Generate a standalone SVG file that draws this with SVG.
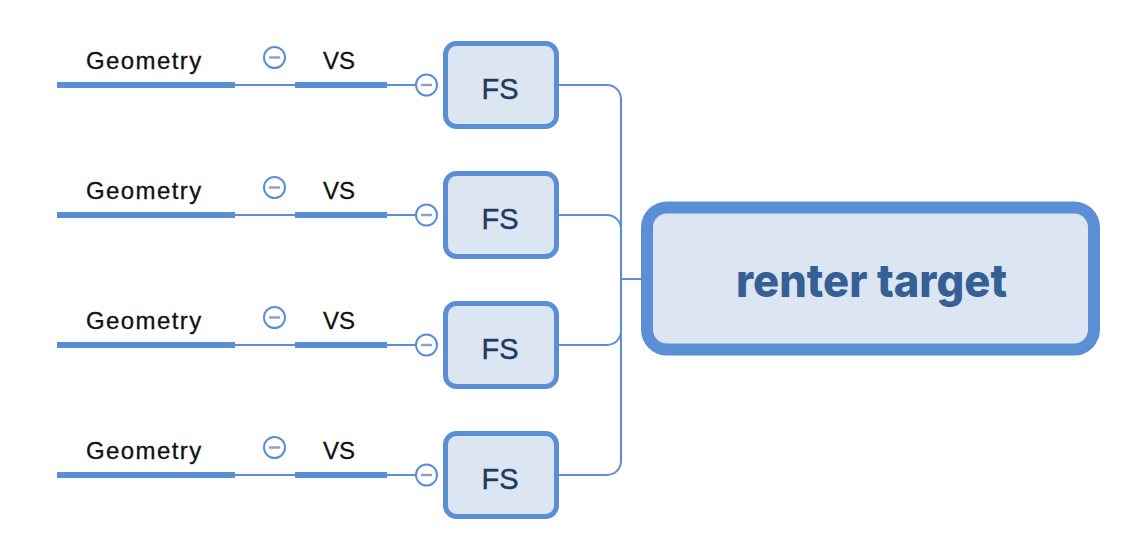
<svg xmlns="http://www.w3.org/2000/svg" width="1141" height="558" viewBox="0 0 1141 558">
<style>
.thick{stroke:#5a8fd6;stroke-width:6;fill:none}
.thin{stroke:#5a8fd6;stroke-width:2;fill:none}
.tog{fill:#fff;stroke:#5a8fd6;stroke-width:2}
.minus{stroke:#9a9cc8;stroke-width:2.5;stroke-linecap:round}
.lbl{font-family:"Liberation Sans",Arial,sans-serif;font-size:24px;fill:#111;stroke:#111;stroke-width:0.3}
.fs{fill:#dce6f2;stroke:#5a8fd6;stroke-width:5}
.fst{font-family:"Liberation Sans",Arial,sans-serif;font-size:29px;fill:#1f3b5e;stroke:#1f3b5e;stroke-width:0.4;text-anchor:middle}
</style>
<rect width="1141" height="558" fill="#fff"/>
<g id="connectors">
<path class="thin" d="M559,85 H607 A14,14 0 0 1 621,99 V279 H641"/>
<path class="thin" d="M559,215 H607 A14,14 0 0 1 621,229 V279 H641"/>
<path class="thin" d="M559,345 H607 A14,14 0 0 0 621,331 V279 H641"/>
<path class="thin" d="M559,475 H607 A14,14 0 0 0 621,461 V279 H641"/>
</g>
<g id="row1" transform="translate(0,85)">
<line class="thick" x1="57" y1="0" x2="235" y2="0"/>
<line class="thin" x1="235" y1="0" x2="295" y2="0"/>
<line class="thick" x1="295" y1="0" x2="387" y2="0"/>
<line class="thin" x1="387" y1="0" x2="416" y2="0"/>
<text class="lbl" x="86" y="-16" letter-spacing="1.4">Geometry</text>
<text class="lbl" x="323" y="-16">VS</text>
<circle class="tog" cx="274.5" cy="-27.5" r="10.5"/><line class="minus" x1="270" y1="-27.5" x2="279" y2="-27.5"/>
<circle class="tog" cx="426.5" cy="0" r="10.5"/><line class="minus" x1="422" y1="0" x2="431" y2="0"/>
<g id="fs1"><rect class="fs" x="445.5" y="-41.5" width="111" height="83" rx="11"/><text class="fst" x="500" y="14">FS</text></g>
</g>
<g id="row2" transform="translate(0,215)">
<line class="thick" x1="57" y1="0" x2="235" y2="0"/>
<line class="thin" x1="235" y1="0" x2="295" y2="0"/>
<line class="thick" x1="295" y1="0" x2="387" y2="0"/>
<line class="thin" x1="387" y1="0" x2="416" y2="0"/>
<text class="lbl" x="86" y="-16" letter-spacing="1.4">Geometry</text>
<text class="lbl" x="323" y="-16">VS</text>
<circle class="tog" cx="274.5" cy="-27.5" r="10.5"/><line class="minus" x1="270" y1="-27.5" x2="279" y2="-27.5"/>
<circle class="tog" cx="426.5" cy="0" r="10.5"/><line class="minus" x1="422" y1="0" x2="431" y2="0"/>
<g id="fs2"><rect class="fs" x="445.5" y="-41.5" width="111" height="83" rx="11"/><text class="fst" x="500" y="14">FS</text></g>
</g>
<g id="row3" transform="translate(0,345)">
<line class="thick" x1="57" y1="0" x2="235" y2="0"/>
<line class="thin" x1="235" y1="0" x2="295" y2="0"/>
<line class="thick" x1="295" y1="0" x2="387" y2="0"/>
<line class="thin" x1="387" y1="0" x2="416" y2="0"/>
<text class="lbl" x="86" y="-16" letter-spacing="1.4">Geometry</text>
<text class="lbl" x="323" y="-16">VS</text>
<circle class="tog" cx="274.5" cy="-27.5" r="10.5"/><line class="minus" x1="270" y1="-27.5" x2="279" y2="-27.5"/>
<circle class="tog" cx="426.5" cy="0" r="10.5"/><line class="minus" x1="422" y1="0" x2="431" y2="0"/>
<g id="fs3"><rect class="fs" x="445.5" y="-41.5" width="111" height="83" rx="11"/><text class="fst" x="500" y="14">FS</text></g>
</g>
<g id="row4" transform="translate(0,475)">
<line class="thick" x1="57" y1="0" x2="235" y2="0"/>
<line class="thin" x1="235" y1="0" x2="295" y2="0"/>
<line class="thick" x1="295" y1="0" x2="387" y2="0"/>
<line class="thin" x1="387" y1="0" x2="416" y2="0"/>
<text class="lbl" x="86" y="-16" letter-spacing="1.4">Geometry</text>
<text class="lbl" x="323" y="-16">VS</text>
<circle class="tog" cx="274.5" cy="-27.5" r="10.5"/><line class="minus" x1="270" y1="-27.5" x2="279" y2="-27.5"/>
<circle class="tog" cx="426.5" cy="0" r="10.5"/><line class="minus" x1="422" y1="0" x2="431" y2="0"/>
<g id="fs4"><rect class="fs" x="445.5" y="-41.5" width="111" height="83" rx="11"/><text class="fst" x="500" y="14">FS</text></g>
</g>
<g id="renter-target">
<rect x="647" y="207.5" width="447" height="142" rx="20" fill="#dce6f2" stroke="#5a8fd6" stroke-width="12"/>
<text x="871.5" y="297" text-anchor="middle" font-family="Inter,'Liberation Sans',sans-serif" font-weight="800" font-size="46" fill="#365f95" textLength="271" lengthAdjust="spacingAndGlyphs">renter target</text>
</g>
</svg>
